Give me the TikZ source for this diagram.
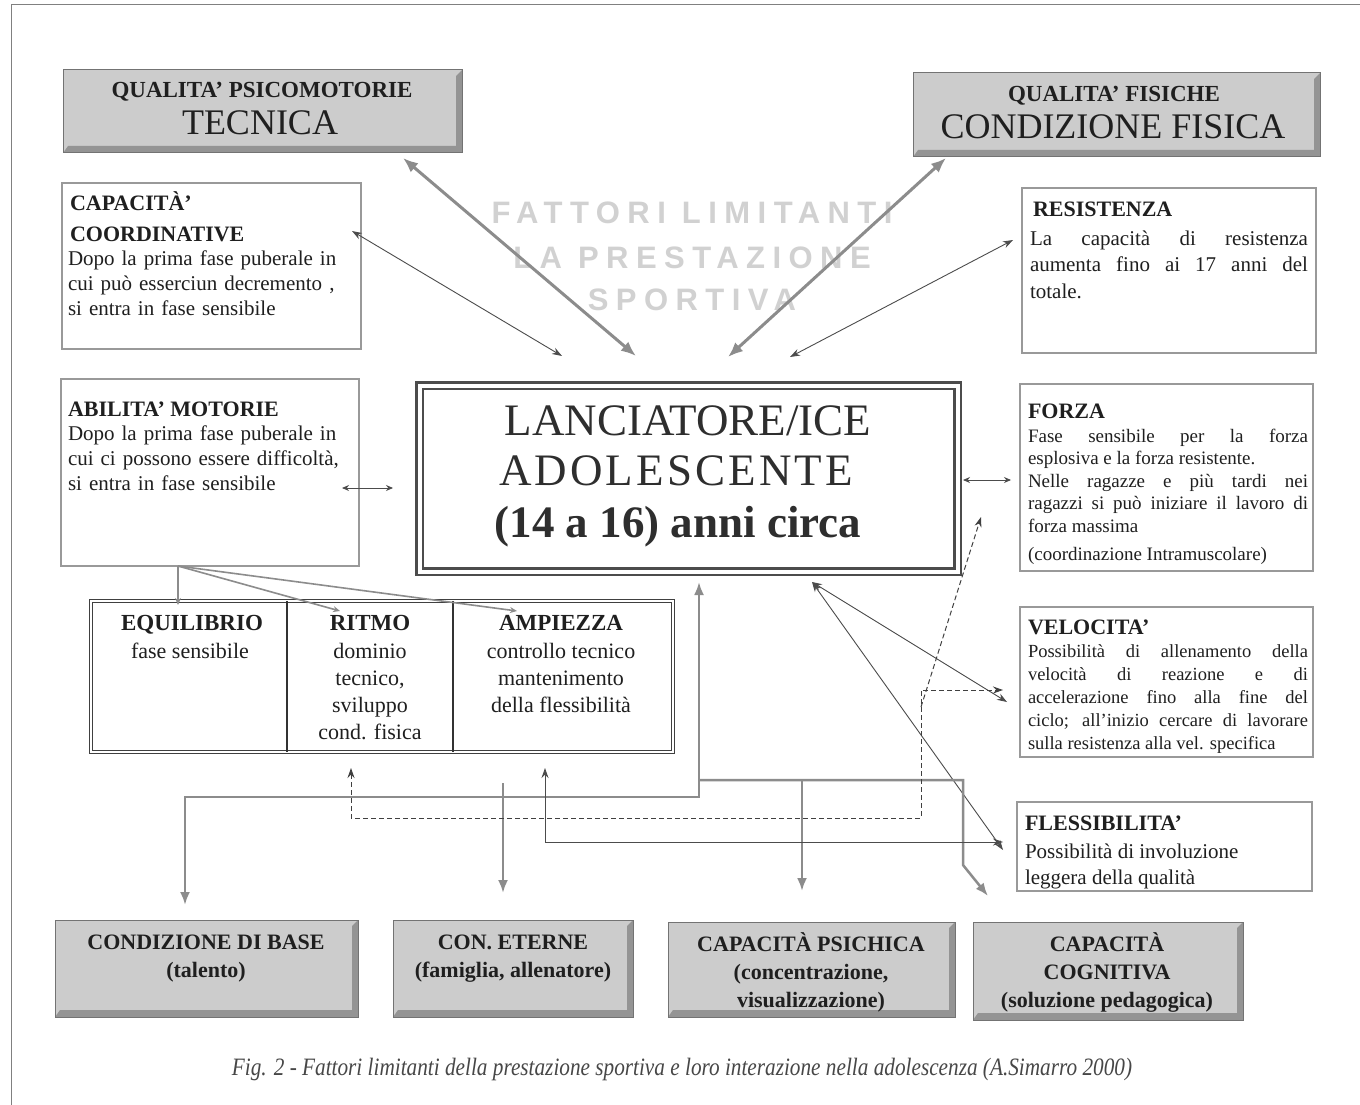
\documentclass[tikz,border=0pt]{standalone}
\usepackage{fontspec}
\setmainfont{Liberation Serif}
\newfontfamily\wmfont[LetterSpace=24]{Liberation Sans}
\newfontfamily\spacedfont[LetterSpace=7]{Liberation Serif}
\usepackage{graphicx}
\usetikzlibrary{arrows.meta}
\newcommand\mystrut{\rule{0pt}{1em}}
\tikzset{
  every node/.style={inner sep=0pt, outer sep=0pt, text=black!88},
  bodybox/.style={draw=black!40, line width=1.6pt, fill=white, anchor=north west},
  greybox/.style={draw=black!55, line width=1pt, fill=black!20, anchor=north west,
    path picture={\fill[black!42] (path picture bounding box.south west) -- (path picture bounding box.south east) -- (path picture bounding box.north east) -- ([xshift=-6pt,yshift=-6pt]path picture bounding box.north east) -- ([xshift=-6pt,yshift=7pt]path picture bounding box.south east) -- ([xshift=5pt,yshift=7pt]path picture bounding box.south west) -- cycle;}},
  boxtitle/.style={font=\fontsize{22}{31}\selectfont\bfseries, anchor=north west, align=left},
  boxbody/.style={font=\fontsize{21}{25}\selectfont, anchor=north west},
  headtop/.style={font=\fontsize{23}{28}\selectfont\bfseries, anchor=base},
  headbig/.style={font=\fontsize{36}{40}\selectfont, anchor=base},
  centretext/.style={font=\fontsize{45}{51}\selectfont, anchor=base, text=black!82},
  watermark/.style={font=\wmfont\fontsize{31}{40}\selectfont\bfseries, anchor=base, text=black!18},
  cellhead/.style={font=\fontsize{23}{27}\selectfont\bfseries, anchor=base},
  cellbody/.style={font=\fontsize{22}{27.3}\selectfont, anchor=north, align=center},
  bottomtext/.style={font=\fontsize{22}{28}\selectfont\bfseries, anchor=north, align=center},
  thickconn/.style={draw=black!45, line width=3pt, >={Latex[length=15pt,width=12pt]}},
  netconn/.style={draw=black!45, line width=2.5pt, >={Latex[length=13pt,width=10pt]}},
  thinconn/.style={draw=black!70, line width=0.9pt, >={Stealth[length=10pt,width=7pt]}},
  smallconn/.style={draw=black!70, line width=0.9pt, >={Stealth[length=7pt,width=6pt]}},
  dashconn/.style={draw=black!75, line width=1pt, dash pattern=on 5pt off 3pt, >={Stealth[length=10pt,width=7pt]}},
  fanconn/.style={draw=black!45, line width=1.6pt, >={Stealth[length=7pt,width=6pt]}},
}
\begin{document}
\begin{tikzpicture}[x=1pt,y=-1pt]
\fill[white] (0,0) rectangle (1360,1105);
\useasboundingbox (0,0) rectangle (1360,1105);
% outer frame
\draw[black!50, line width=1pt] (11,1105) -- (11,5) -- (1360,5);

% watermark
\node[watermark] (wm1) at (692,223) {FATTORI LIMITANTI};
\node[watermark] (wm2) at (692,268) {LA PRESTAZIONE};
\node[watermark] (wm3) at (692,310) {SPORTIVA};

% top boxes
\node[greybox, minimum width=399pt, minimum height=83pt] (tecbox) at (63,70) {};
\node[headtop] (tec1) at (262,98) {QUALITA’ PSICOMOTORIE};
\node[headbig] (tec2) at (260,135) {TECNICA};
\node[greybox, minimum width=407pt, minimum height=84pt] (fisbox) at (913,73) {};
\node[headtop] (fis1) at (1114,102) {QUALITA’ FISICHE};
\node[headbig] (fis2) at (1113,139) {CONDIZIONE FISICA};

% central box
\node[draw=black!70, line width=2.5pt, double=white, double distance=4pt, minimum width=538pt, minimum height=186pt, anchor=north west] (centre) at (419.5,385.5) {};
\node[centretext] (c1) at (688,435) {LANCIATORE/ICE};
\node[centretext, font=\spacedfont\fontsize{45}{51}\selectfont] (c2) at (676,485) {ADOLESCENTE};
\node[centretext, font=\fontsize{45}{51}\selectfont\bfseries] (c3) at (678,537) {(14 a 16) anni circa};

% capacita coordinative
\node[bodybox, minimum width=299pt, minimum height=166pt] (coordbox) at (62,183) {};
\node[boxtitle] (coordtitle) at (70,188) {\mystrut CAPACITÀ’\\COORDINATIVE};
\node[boxbody, text width=288pt, align=left] (coordtxt) at (68,244) {\mystrut Dopo la prima fase puberale in\\cui può esserciun decremento ,\\si entra in fase sensibile};

% resistenza
\node[bodybox, minimum width=294pt, minimum height=165pt] (resbox) at (1022,188) {};
\node[boxtitle] (restitle) at (1033,194) {\mystrut RESISTENZA};
\node[boxbody, font=\fontsize{21}{26.5}\selectfont, text width=278pt, align=justify] (restxt) at (1030,224) {\mystrut La capacità di resistenza\linebreak aumenta fino ai 17 anni del\linebreak totale.};

% abilita motorie
\node[bodybox, minimum width=298pt, minimum height=187pt] (abilbox) at (61,379) {};
\node[boxtitle] (abiltitle) at (68,394) {\mystrut ABILITA’ MOTORIE};
\node[boxbody, text width=288pt, align=left] (abiltxt) at (68,419) {\mystrut Dopo la prima fase puberale in\\cui ci possono essere difficoltà,\\si entra in fase sensibile};

% forza
\node[bodybox, minimum width=293pt, minimum height=187pt] (forzabox) at (1020,384) {};
\node[boxtitle] (forzatitle) at (1028,396) {\mystrut FORZA};
\node[boxbody, font=\fontsize{19}{22.5}\selectfont, text width=280pt, align=justify] (forzatxt) at (1028,423) {\mystrut Fase sensibile per la forza\linebreak esplosiva e la forza resistente.\\Nelle ragazze e più tardi nei\linebreak ragazzi si può iniziare il lavoro di\linebreak forza massima\\[6pt](coordinazione Intramuscolare)};

% velocita
\node[bodybox, minimum width=293pt, minimum height=150pt] (velbox) at (1020,607) {};
\node[boxtitle] (veltitle) at (1028,612) {\mystrut VELOCITA’};
\node[boxbody, font=\fontsize{18.5}{23}\selectfont, text width=280pt, align=justify] (veltxt) at (1028,639) {\mystrut Possibilità di allenamento della\linebreak velocità di reazione e di\linebreak accelerazione fino alla fine del\linebreak ciclo; all’inizio cercare di lavorare\linebreak sulla resistenza alla vel. specifica};

% flessibilita
\node[bodybox, minimum width=295pt, minimum height=89pt] (flesbox) at (1017,802) {};
\node[boxtitle] (flestitle) at (1025,808) {\mystrut FLESSIBILITA’};
\node[boxbody, font=\fontsize{21}{26}\selectfont, align=left] (flestxt) at (1025,837) {\mystrut Possibilità di involuzione\\leggera della qualità};

% table
\node[draw=black!75, line width=1pt, double=white, double distance=2pt, minimum width=582pt, minimum height=151pt, anchor=north west] (tab) at (91,601) {};
\draw[black!80, line width=1.3pt] ([xshift=196pt]tab.north west) -- ([xshift=196pt]tab.south west);
\draw[black!80, line width=1.3pt] ([xshift=362pt]tab.north west) -- ([xshift=362pt]tab.south west);
\node[cellhead] (eqh) at (192,630) {EQUILIBRIO};
\node[cellbody] (eqt) at (190,636) {\mystrut fase sensibile};
\node[cellhead] (rih) at (370,630) {RITMO};
\node[cellbody] (rit) at (370,636) {\mystrut dominio\\tecnico,\\sviluppo\\cond. fisica};
\node[cellhead] (amh) at (561,630) {AMPIEZZA};
\node[cellbody] (amt) at (561,636) {\mystrut controllo tecnico\\mantenimento\\della flessibilità};

% bottom boxes
\node[greybox, minimum width=303pt, minimum height=97pt] (cbbox) at (55,920) {};
\node[bottomtext] (cbtxt) at (206,927) {\mystrut CONDIZIONE DI BASE\\(talento)};
\node[greybox, minimum width=240pt, minimum height=97pt] (cebox) at (393,920) {};
\node[bottomtext] (cetxt) at (513,927) {\mystrut CON. ETERNE\\(famiglia, allenatore)};
\node[greybox, minimum width=287pt, minimum height=95pt] (cpbox) at (668,922) {};
\node[bottomtext] (cptxt) at (811,929) {\mystrut CAPACITÀ PSICHICA\\(concentrazione,\\visualizzazione)};
\node[greybox, minimum width=270pt, minimum height=98pt] (ccbox) at (973,922) {};
\node[bottomtext] (cctxt) at (1107,929) {\mystrut CAPACITÀ\\COGNITIVA\\(soluzione pedagogica)};

% caption
\node[anchor=base, text=black!72] (caption) at (682,1075) {\scalebox{0.85}[1]{\fontsize{25}{30}\selectfont\itshape Fig. 2 - Fattori limitanti della prestazione sportiva e loro interazione nella adolescenza (A.Simarro 2000)}};

% ---------- connectors ----------
\coordinate (tecend) at (403,158);
\coordinate (tecc) at (636,356);
\draw[thickconn,<->] (tecend) -- (tecc);
\coordinate (fisend) at (946,158);
\coordinate (fisc) at (728,357);
\draw[thickconn,<->] (fisend) -- (fisc);

\coordinate (coordend) at (352,231);
\coordinate (coordc) at (562,356);
\draw[thinconn,<->] (coordend) -- (coordc);
\coordinate (resend) at (1013,240);
\coordinate (resc) at (790,357);
\draw[thinconn,<->] (resend) -- (resc);

\coordinate (abilend) at (342,488);
\coordinate (abilc) at (393,488);
\draw[smallconn,<->] (abilend) -- (abilc);
\coordinate (forzac) at (963,480);
\coordinate (forzaend) at (1011,480);
\draw[smallconn,<->] (forzac) -- (forzaend);

\coordinate (cbot) at (812,582);
\coordinate (velend) at (1007,702);
\coordinate (flesend) at (1003,850);
\draw[thinconn,<->] (cbot) -- (velend);
\draw[thinconn,<->] (cbot) -- (flesend);

% abilita -> table
\coordinate (abilbot) at (178,566);
\draw[fanconn,->] (abilbot) -- (178,605);
\draw[fanconn,->] (abilbot) -- (340,611);
\draw[fanconn,->] (abilbot) -- (517,611);

% grey network
\coordinate (cbtop) at (185,905);
\coordinate (n1) at (185,797);
\coordinate (n2) at (699,797);
\coordinate (cleft) at (699,582);
\draw[netconn,<->] (cbtop) -- (n1) -- (n2) -- (cleft);
\coordinate (n3) at (699,780);
\coordinate (n4) at (963,780);
\coordinate (n5) at (963,865);
\coordinate (cctop) at (988,896);
\draw[netconn,->] (n3) -- (n4) -- (n5) -- (cctop);
\coordinate (n6) at (802,780);
\coordinate (cptop) at (802,891);
\draw[netconn,->] (n6) -- (cptop);
\coordinate (n7) at (503,783);
\coordinate (cetop) at (503,893);
\draw[netconn,->] (n7) -- (cetop);

% dashed network
\coordinate (ritbot) at (351,768);
\coordinate (d1) at (351,818);
\coordinate (d2) at (921,818);
\coordinate (d3) at (921,690);
\coordinate (velend2) at (1003,690);
\draw[dashconn,<->] (ritbot) -- (d1) -- (d2) -- (d3) -- (velend2);
\coordinate (d4) at (921,707);
\coordinate (forzaend2) at (981,517);
\draw[dashconn,->] (d4) -- (forzaend2);

% solid thin: ampiezza -> flessibilita
\coordinate (ampbot) at (545,768);
\coordinate (s1) at (545,842);
\coordinate (flesend2) at (1003,842);
\draw[thinconn,<->] (ampbot) -- (s1) -- (flesend2);
\end{tikzpicture}
\end{document}
